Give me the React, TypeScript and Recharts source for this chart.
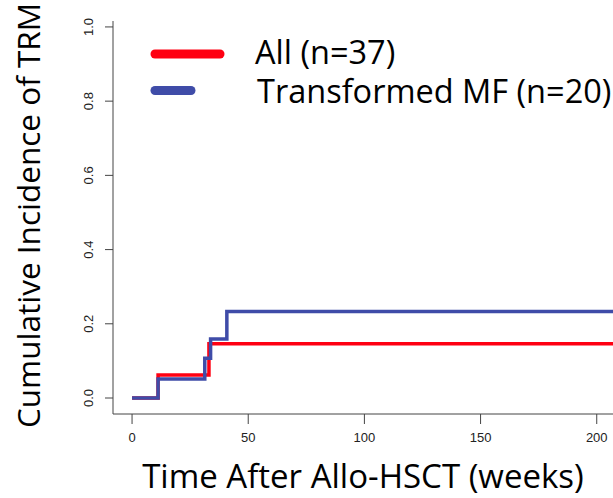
import { LineChart, Line, XAxis, YAxis, Label } from 'recharts'

// Cumulative incidence of TRM after allo-HSCT (step curves)
const weeksAll = [0, 11.2, 33.1, 207]
const incidenceAll = [0, 0.062, 0.146, 0.146]
const weeksTransformed = [0, 11.2, 31.3, 33.8, 40.8, 207]
const incidenceTransformed = [0, 0.051, 0.107, 0.159, 0.233, 0.233]

const xTicks = [0, 50, 100, 150, 200]
const yTicks = [0, 0.2, 0.4, 0.6, 0.8, 1.0]

const RED = '#ff0012'
const BLUE = '#3f4ca8'
const AXIS = '#444'
const BIG_FONT = '"Open Sans", Lato, sans-serif'
const TICK_FONT = '"Liberation Sans", Arial, sans-serif'

const toPoints = (ts: number[], vs: number[]) => ts.map((t, i) => ({ t, v: vs[i] }))

const series = [
  { name: 'All (n=37)', color: RED, data: toPoints(weeksAll, incidenceAll), legendLen: 73 },
  {
    name: 'Transformed MF (n=20)',
    color: BLUE,
    data: toPoints(weeksTransformed, incidenceTransformed),
    legendLen: 44,
  },
]

function XTick({ x, y, payload }: any) {
  return (
    <text x={x} y={y} textAnchor="middle" fontSize={13} fontFamily={TICK_FONT} fill="#222">
      {payload.value}
    </text>
  )
}

function YTick({ x, y, payload }: any) {
  return (
    <text
      x={x}
      y={y}
      transform={`rotate(-90, ${x}, ${y})`}
      textAnchor="middle"
      fontSize={13}
      fontFamily={TICK_FONT}
      fill="#222"
    >
      {Number(payload.value).toFixed(1)}
    </text>
  )
}

// legend drawn over the chart, top-left of the plot
function LegendBox() {
  return (
    <svg
      width={613}
      height={120}
      style={{ position: 'absolute', left: 0, top: 0, pointerEvents: 'none' }}
    >
      {series.map((s, i) => {
        const cy = i === 0 ? 54 : 90.5
        return (
          <g key={s.name}>
            <line
              x1={155}
              x2={151 + s.legendLen - 4}
              y1={cy}
              y2={cy}
              stroke={s.color}
              strokeWidth={9}
              strokeLinecap="round"
            />
            <text
              x={i === 0 ? 255 : 257}
              y={i === 0 ? 64 : 103}
              fontSize={32.5}
              fontFamily={BIG_FONT}
              fill="#000"
            >
              {s.name}
            </text>
          </g>
        )
      })}
    </svg>
  )
}

export default function App() {
  return (
    <div style={{ position: 'absolute', left: 0, top: 0, background: '#fff' }}>
      <LineChart width={613} height={498} margin={{ top: 21, right: 0, bottom: 0, left: 0 }}>
        <XAxis
          type="number"
          dataKey="t"
          domain={[-8.2, 207]}
          allowDataOverflow
          ticks={xTicks}
          tickSize={10}
          tickMargin={18}
          tick={<XTick />}
          stroke={AXIS}
          tickLine={{ stroke: AXIS }}
          height={84}
        >
          <Label
            content={({ viewBox }: any) => (
              <text
                x={viewBox.x + viewBox.width / 2}
                y={488}
                textAnchor="middle"
                fontSize={33}
                fontFamily={BIG_FONT}
                fill="#000"
              >
                Time After Allo-HSCT (weeks)
              </text>
            )}
          />
        </XAxis>
        <YAxis
          type="number"
          dataKey="v"
          domain={[-0.0431, 1.016]}
          allowDataOverflow
          ticks={yTicks}
          tickSize={8}
          tickMargin={12}
          tick={<YTick />}
          stroke={AXIS}
          tickLine={{ stroke: AXIS }}
          width={113}
        >
          <Label
            content={({ viewBox }: any) => {
              const cy = viewBox.y + viewBox.height / 2 - 2
              return (
                <text
                  x={40}
                  y={cy}
                  transform={`rotate(-90, 40, ${cy})`}
                  textAnchor="middle"
                  fontSize={31.5}
                  fontFamily={BIG_FONT}
                  fill="#000"
                >
                  Cumulative Incidence of TRM
                </text>
              )
            }}
          />
        </YAxis>
        {series.map((s) => (
          <Line
            key={s.name}
            name={s.name}
            data={s.data}
            dataKey="v"
            type="stepAfter"
            stroke={s.color}
            strokeWidth={3.5}
            dot={false}
            activeDot={false}
            isAnimationActive={false}
          />
        ))}
      </LineChart>
      <LegendBox />
    </div>
  )
}
